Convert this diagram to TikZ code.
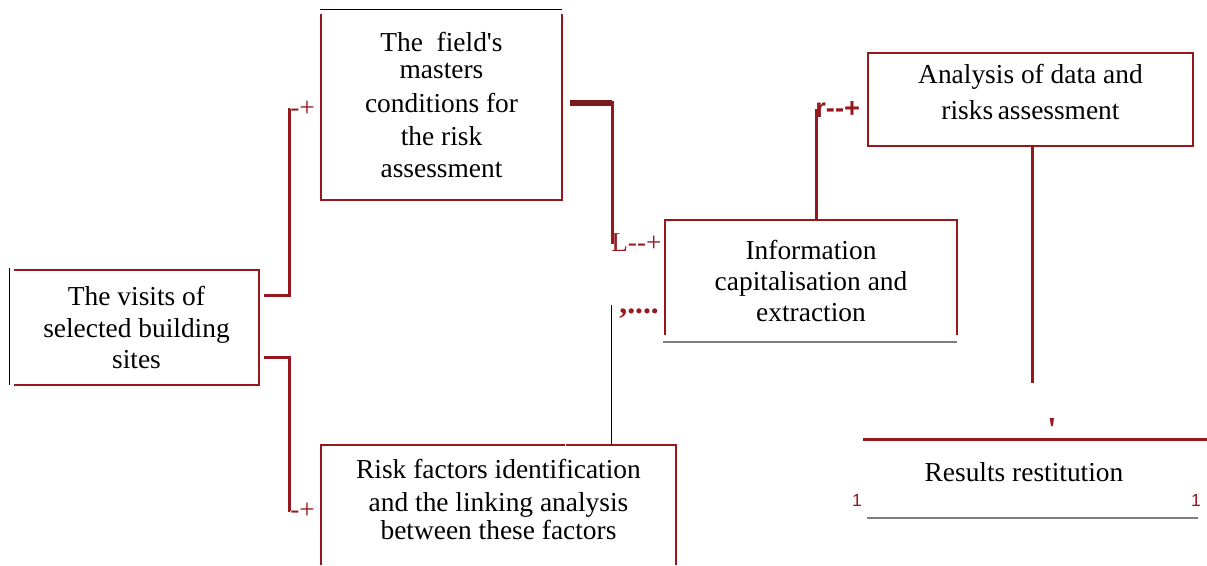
\documentclass[tikz,border=0pt]{standalone}
\usepackage{fontspec}
\setmainfont{Liberation Serif}
\newfontfamily\artsans{Liberation Sans}
\usepackage{tikz}
\definecolor{wine}{RGB}{150,24,30}
\definecolor{darkwine}{RGB}{122,26,28}

\begin{document}
\begin{tikzpicture}[x=0.02cm,y=-0.02cm,
  box/.style={inner sep=0pt, align=center, font=\fontsize{15.6}{17.8}\selectfont},
  side/.style={wine, line width=1.1pt},
  link/.style={wine, line width=1.6pt},
  rule/.style={black, line width=0.6pt},
  greyrule/.style={gray, line width=1pt},
  glyph/.style={wine, inner sep=0pt, font=\fontsize{15.5}{17.8}\selectfont}]
\useasboundingbox (0,0) rectangle (1207,565);

% boxes
\node[box, minimum width=4.9cm, minimum height=2.3cm] (visits) at (136.5,327.5) {The visits of\\ selected building\\ sites};
\draw[side] (visits.north west) -- (visits.north east) -- (visits.south east) -- (visits.south west);
\draw[rule] (visits.north west) ++(-4,-2) -- ++(0,117);

\node[box, minimum width=4.82cm, minimum height=3.8cm] (masters) at (441.5,105) {The\ \ field\textquotesingle s\\[-2.5pt] masters\\[1.5pt] conditions for\\[1pt] the risk\\ assessment};
\draw[side] (masters.north west) ++(0,4) -- (masters.south west) -- (masters.south east) -- ++(0,-186);
\draw[rule] (masters.north west) ++(-1,0) -- (masters.north east);

\node[box, minimum width=5.84cm, minimum height=2.44cm] (info) at (811,281) {Information\\ capitalisation and\\ extraction};
\draw[side] (info.south west) ++(0,-7) |- (info.north east) -- ++(0,115);
\draw[greyrule] (info.south west) ++(-2,0) -- (info.south east);

\node[box, minimum width=6.5cm, minimum height=1.86cm, text depth=9pt] (analysis) at (1030.5,99.5) {Analysis of data and\\[2.6pt] risks\,assessment};
\draw[side] (analysis.north west) rectangle (analysis.south east);

\node[box, minimum width=7.1cm, minimum height=2.4cm, text depth=6.5pt] (risk) at (498.5,505) {Risk factors identification\\[1pt] and the linking analysis\\[-1.5pt] between these factors};
\draw[side] (risk.south west) -- (risk.north west) -- ++(244,0);
\draw[side] (risk.north west) ++(245,0) -- (risk.north east) -- (risk.south east);

\node[box, minimum width=6.44cm, minimum height=1.56cm, text depth=7.5pt] (results) at (1024,479) {Results restitution};
\draw[wine, line width=1.7pt] (results.north west) -- ++(344,0);
\draw[greyrule] (results.south west) ++(4,0) -- ++(331,0);

% stray marks
\node[glyph, anchor=west] (plusUp) at (290,109) {-+};
\node[glyph, anchor=west] (plusDown) at (290,511) {-+};
\node[glyph, anchor=west] (lTee) at (611,243) {L-{}-+};
\node[glyph, anchor=west, font=\artsans\bfseries\fontsize{15.5}{17.8}\selectfont] (rTee) at (815,110) {r-{}-+};
\node[glyph, anchor=west, font=\bfseries\fontsize{18}{18}\selectfont] (dots) at (619,314) {,....};
\node[glyph, font=\bfseries\fontsize{20}{20}\selectfont] (tick) at (1052,430) {\textquotesingle};
\node[glyph, font=\artsans\fontsize{10}{12}\selectfont] (oneL) at (857,500) {1};
\node[glyph, font=\artsans\fontsize{10}{12}\selectfont] (oneR) at (1196,500) {1};

% links
\draw[link] (visits.north east) ++(5,26) -- ++(25,0) |- (plusUp.west);
\draw[link] (visits.north east) ++(5,88) -- ++(25,0) |- (plusDown.west);
\draw[darkwine, line width=3.4pt] (masters.north east) ++(8,93) -- ++(42,0);
\draw[link] (masters.north east) ++(50,91) |- (lTee.west);
\draw[link] (info.north west) ++(152,0) |- (rTee.west);
\draw[rule] (risk.north west) ++(291,0) -- ++(0,-140);
\draw[link] (analysis.south west) ++(165,0) -- ++(0,237);
\end{tikzpicture}
\end{document}
